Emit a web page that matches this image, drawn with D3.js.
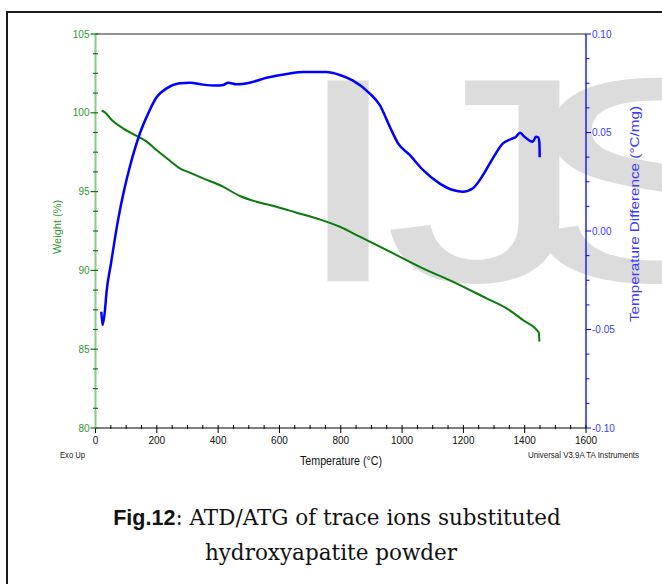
<!DOCTYPE html>
<html>
<head>
<meta charset="utf-8">
<script src="https://cdn.jsdelivr.net/npm/d3@7"></script>
<style>
  html, body { margin: 0; padding: 0; background: #fff; }
  svg { display: block; }
  .sans { font-family: "Liberation Sans", Arial, Helvetica, sans-serif; }
  .serif { font-family: "DejaVu Serif", serif; }
  .tick-label { font-family: "Liberation Sans", Arial, sans-serif; font-size: 10px; }
</style>
</head>
<body>
<div id="chart"></div>
<script>
// TGA weight curve (green)
const tgTemp   = [20, 31, 53, 91, 123, 167, 199, 237, 275, 308, 351, 416, 471, 525, 590, 656, 731, 797, 862, 960, 1068, 1177, 1275, 1340, 1394, 1446, 1448];
const tgWeight = [100.13, 100.03, 99.54, 99.0, 98.65, 98.17, 97.64, 97.05, 96.48, 96.2, 95.84, 95.31, 94.72, 94.36, 94.04, 93.66, 93.24, 92.77, 92.14, 91.19, 90.13, 89.18, 88.23, 87.6, 86.85, 86.05, 85.48];

// DTA curve (blue)
const dtaTemp  = [19, 23, 31, 36, 50, 74, 91, 112, 145, 172, 199, 232, 275, 308, 351, 395, 416, 433, 460, 503, 558, 634, 677, 753, 797, 840, 894, 927, 960, 987, 1025, 1068, 1122, 1166, 1198, 1231, 1264, 1296, 1329, 1356, 1372, 1385, 1399, 1426, 1437, 1444, 1448, 1449];
const dtaValue = [-0.041, -0.0477, -0.040, -0.031, -0.017, 0.0059, 0.0191, 0.0326, 0.0496, 0.0597, 0.0679, 0.0724, 0.075, 0.0753, 0.0743, 0.0738, 0.0741, 0.0753, 0.0745, 0.0753, 0.0778, 0.08, 0.0807, 0.0807, 0.0792, 0.0763, 0.0699, 0.064, 0.0529, 0.0445, 0.0386, 0.031, 0.0242, 0.0208, 0.0199, 0.0217, 0.0284, 0.0369, 0.0445, 0.0467, 0.0479, 0.0499, 0.0479, 0.0453, 0.0479, 0.0476, 0.0448, 0.0374];

// axis ticks
const xTicks = [0, 200, 400, 600, 800, 1000, 1200, 1400, 1600];
const weightTicks = [80, 85, 90, 95, 100, 105];
const dtaTicks = [-0.10, -0.05, 0.00, 0.05, 0.10];

const W = 662, H = 584;
const plot = { left: 95.5, right: 586, top: 34, bottom: 428 };

const green = "#0a7a0a", greenText = "#2f9a2f", greenAxis = "#8cc88c";
const blue = "#0000ff", blueText = "#3a3aff";

const svg = d3.select("#chart").append("svg")
  .attr("width", W)
  .attr("height", H);

const x = d3.scaleLinear().domain([0, 1600]).range([plot.left, plot.right]);
const yW = d3.scaleLinear().domain([80, 105]).range([plot.bottom, plot.top]);
const yD = d3.scaleLinear().domain([-0.1, 0.1]).range([plot.bottom, plot.top]);

// outer figure frame (cut by the page edge on right and bottom)
svg.append("rect")
  .attr("x", 7).attr("y", 12)
  .attr("width", 720).attr("height", 700)
  .attr("fill", "none")
  .attr("stroke", "#1a1a1a")
  .attr("stroke-width", 2);

// watermark, the letters are wider than the plain font so each one is stretched
const wmLetters = [["I", 292], ["J", 386], ["S", 522]];
svg.selectAll(".wm")
  .data(wmLetters)
  .enter().append("text")
  .attr("class", "sans wm")
  .attr("transform", d => `translate(${d[1]},280) scale(1.4,1)`)
  .style("font-size", "288px")
  .attr("fill", "#dcdcdc")
  .attr("stroke", "#dcdcdc")
  .attr("stroke-width", 2.5)
  .text(d => d[0]);

// top border of plot
svg.append("line")
  .attr("x1", plot.left).attr("x2", plot.right)
  .attr("y1", plot.top).attr("y2", plot.top)
  .attr("stroke", "#6e6e6e").attr("stroke-width", 1.5);

// bottom axis
const xAxis = svg.append("g").attr("transform", `translate(0,${plot.bottom})`);
xAxis.append("line")
  .attr("x1", plot.left).attr("x2", plot.right)
  .attr("stroke", "#000").attr("stroke-width", 1.2);
xAxis.selectAll(".minor")
  .data(d3.range(0, 1601, 50))
  .enter().append("line")
  .attr("x1", d => x(d)).attr("x2", d => x(d))
  .attr("y1", -3).attr("y2", d => d % 200 === 0 ? 5 : 1)
  .attr("stroke", "#000").attr("stroke-width", 1);
xAxis.selectAll(".tick-label")
  .data(xTicks)
  .enter().append("text")
  .attr("class", "tick-label")
  .attr("x", d => x(d)).attr("y", 16)
  .attr("text-anchor", "middle")
  .attr("fill", "#111")
  .text(d => d);

// left axis (weight)
const yAxisL = svg.append("g").attr("transform", `translate(${plot.left},0)`);
yAxisL.append("line")
  .attr("y1", plot.top).attr("y2", plot.bottom)
  .attr("stroke", greenAxis).attr("stroke-width", 2);
yAxisL.selectAll(".minor")
  .data(d3.range(0, 21).map(i => 80 + i * 1.25))
  .enter().append("line")
  .attr("y1", d => yW(d)).attr("y2", d => yW(d))
  .attr("x1", d => weightTicks.includes(d) ? -5 : -2.5).attr("x2", 2.5)
  .attr("stroke", green).attr("stroke-width", 1.2);
yAxisL.selectAll(".tick-label")
  .data(weightTicks)
  .enter().append("text")
  .attr("class", "tick-label")
  .attr("x", -6).attr("y", d => yW(d) + 3.5)
  .attr("text-anchor", "end")
  .attr("fill", greenText)
  .text(d => d);

// right axis (temperature difference)
const yAxisR = svg.append("g").attr("transform", `translate(${plot.right},0)`);
yAxisR.append("line")
  .attr("y1", plot.top).attr("y2", plot.bottom)
  .attr("stroke", blue).attr("stroke-width", 1.3);
yAxisR.selectAll(".minor")
  .data(d3.range(0, 17).map(i => -0.1 + i * 0.0125))
  .enter().append("line")
  .attr("y1", d => yD(d)).attr("y2", d => yD(d))
  .attr("x1", 0).attr("x2", (d, i) => i % 4 === 0 ? 5 : 3.5)
  .attr("stroke", blue).attr("stroke-width", 1);
yAxisR.selectAll(".tick-label")
  .data(dtaTicks)
  .enter().append("text")
  .attr("class", "tick-label")
  .attr("x", 6).attr("y", d => yD(d) + 3.5)
  .attr("fill", blueText)
  .text(d => d3.format(".2f")(d).replace("−", "-"));

// curves
const tgLine = d3.line()
  .x((d, i) => x(tgTemp[i]))
  .y(d => yW(d))
  .curve(d3.curveMonotoneX);
svg.append("path")
  .datum(tgWeight)
  .attr("d", tgLine)
  .attr("fill", "none")
  .attr("stroke", green)
  .attr("stroke-width", 2);

const dtaLine = d3.line()
  .x((d, i) => x(dtaTemp[i]))
  .y(d => yD(d))
  .curve(d3.curveMonotoneX);
svg.append("path")
  .datum(dtaValue)
  .attr("d", dtaLine)
  .attr("fill", "none")
  .attr("stroke", blue)
  .attr("stroke-width", 2.5);

// axis titles
svg.append("text")
  .attr("class", "sans")
  .attr("transform", `translate(61,227) rotate(-90)`)
  .attr("text-anchor", "middle")
  .style("font-size", "11px")
  .attr("fill", greenText)
  .text("Weight (%)");

svg.append("text")
  .attr("class", "sans")
  .attr("transform", `translate(639,214) rotate(-90)`)
  .attr("text-anchor", "middle")
  .style("font-size", "12px")
  .attr("textLength", 216)
  .attr("lengthAdjust", "spacingAndGlyphs")
  .attr("fill", blueText)
  .text("Temperature Difference (°C/mg)");

svg.append("text")
  .attr("class", "sans")
  .attr("x", 341).attr("y", 465)
  .attr("text-anchor", "middle")
  .style("font-size", "12px")
  .attr("textLength", 82)
  .attr("lengthAdjust", "spacingAndGlyphs")
  .attr("fill", "#111")
  .text("Temperature (°C)");

svg.append("text")
  .attr("class", "sans")
  .attr("x", 60).attr("y", 458)
  .style("font-size", "9px")
  .attr("textLength", 25)
  .attr("lengthAdjust", "spacingAndGlyphs")
  .attr("fill", "#222")
  .text("Exo Up");

svg.append("text")
  .attr("class", "sans")
  .attr("x", 528).attr("y", 458)
  .style("font-size", "9px")
  .attr("textLength", 111)
  .attr("lengthAdjust", "spacingAndGlyphs")
  .attr("fill", "#222")
  .text("Universal V3.9A TA Instruments");

// caption
const cap1 = svg.append("text")
  .attr("x", 337).attr("y", 525)
  .attr("text-anchor", "middle")
  .style("font-size", "21.5px")
  .attr("fill", "#111");
cap1.append("tspan")
  .attr("class", "sans")
  .style("font-weight", "bold")
  .text("Fig.12");
cap1.append("tspan")
  .attr("class", "serif")
  .text(": ATD/ATG of trace ions substituted");

svg.append("text")
  .attr("class", "serif")
  .attr("x", 331).attr("y", 560)
  .attr("text-anchor", "middle")
  .style("font-size", "21.5px")
  .attr("fill", "#111")
  .text("hydroxyapatite powder");
</script>
</body>
</html>
